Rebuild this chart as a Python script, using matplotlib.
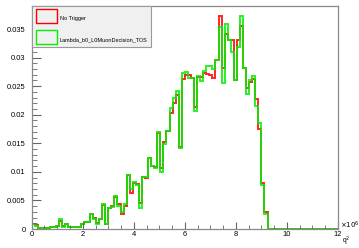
import numpy as np
import matplotlib
matplotlib.use("Agg")
import matplotlib.pyplot as plt
from matplotlib.patches import Rectangle
from matplotlib.ticker import MultipleLocator

# histogram: 100 bins from 0 to 12 (x 1e6)
edges = np.linspace(0, 12, 101)

no_trigger = [
    0.0008, 0.0007, 0.0001, 0.0002, 0.0001, 0.0002, 0.0004, 0.0004, 0.0006, 0.0014,
    0.0005, 0.0008, 0.0004, 0.0004, 0.0004, 0.0004, 0.0008, 0.0013, 0.0013, 0.0027,
    0.0019, 0.0010, 0.0017, 0.0042, 0.0009, 0.0036, 0.0041, 0.0056, 0.0043, 0.0027,
    0.0040, 0.0094, 0.0063, 0.0081, 0.0079, 0.0046, 0.0091, 0.0090, 0.0125, 0.0110,
    0.0108, 0.0168, 0.0106, 0.0153, 0.0171, 0.0203, 0.0221, 0.0235, 0.0144, 0.0263,
    0.0270, 0.0270, 0.0264, 0.0214, 0.0266, 0.0266, 0.0273, 0.0272, 0.0270, 0.0265,
    0.0296, 0.0373, 0.0282, 0.0341, 0.0330, 0.0330, 0.0260, 0.0331, 0.0356, 0.0281,
    0.0246, 0.0257, 0.0262, 0.0227, 0.0175, 0.0080, 0.0029, 0.0, 0.0, 0.0,
    0.0, 0.0, 0.0, 0.0, 0.0, 0.0, 0.0, 0.0, 0.0, 0.0,
    0.0, 0.0, 0.0, 0.0, 0.0, 0.0, 0.0, 0.0, 0.0, 0.0,
]

l0muon_tos = [
    0.0009, 0.0005, 0.0001, 0.0001, 0.0001, 0.0002, 0.0004, 0.0004, 0.0005, 0.0017,
    0.0004, 0.0009, 0.0004, 0.0004, 0.0004, 0.0004, 0.0009, 0.0012, 0.0012, 0.0027,
    0.0017, 0.0009, 0.0017, 0.0044, 0.0008, 0.0036, 0.0039, 0.0058, 0.0040, 0.0029,
    0.0044, 0.0094, 0.0070, 0.0083, 0.0077, 0.0037, 0.0091, 0.0091, 0.0125, 0.0111,
    0.0107, 0.0169, 0.0099, 0.0149, 0.0172, 0.0211, 0.0229, 0.0242, 0.0141, 0.0273,
    0.0274, 0.0264, 0.0264, 0.0207, 0.0268, 0.0259, 0.0277, 0.0286, 0.0286, 0.0280,
    0.0295, 0.0353, 0.0256, 0.0358, 0.0331, 0.0309, 0.0260, 0.0319, 0.0372, 0.0281,
    0.0237, 0.0261, 0.0268, 0.0215, 0.0185, 0.0077, 0.0027, 0.0, 0.0, 0.0,
    0.0, 0.0, 0.0, 0.0, 0.0, 0.0, 0.0, 0.0, 0.0, 0.0,
    0.0, 0.0, 0.0, 0.0, 0.0, 0.0, 0.0, 0.0, 0.0, 0.0,
]

labels = ["No Trigger", "Lambda_b0_L0MuonDecision_TOS"]
colors = ["#ff0000", "#00f000"]

plt.rcParams["font.family"] = ["Liberation Sans", "DejaVu Sans"]

fig = plt.figure(figsize=(3.59, 2.48), dpi=100)
ax = fig.add_axes([31.7 / 359, 1 - 229 / 248, (338 - 31.7) / 359, (229 - 5.7) / 248])

ax.stairs(no_trigger, edges, color=colors[0], lw=1.4, alpha=0.85)
ax.stairs(l0muon_tos, edges, color=colors[1], lw=1.4, alpha=0.85)

ax.set_xlim(0, 12)
ax.set_ylim(0, 0.03908)

ax.xaxis.set_major_locator(MultipleLocator(2))
ax.xaxis.set_minor_locator(MultipleLocator(0.5))
ax.yaxis.set_major_locator(MultipleLocator(0.005))
ax.yaxis.set_minor_locator(MultipleLocator(0.001))
ax.yaxis.set_major_formatter(plt.FuncFormatter(lambda v, p: "0" if v == 0 else f"{v:g}"))

ax.tick_params(axis="both", which="both", direction="in", color="#666666", labelsize=5.4)
ax.tick_params(axis="x", which="major", length=4.8, pad=1.5)
ax.tick_params(axis="x", which="minor", length=2.6)
ax.tick_params(axis="y", which="major", length=6.5, pad=4.5)
ax.tick_params(axis="y", which="minor", length=3.3)
for s in ax.spines.values():
    s.set_color("#888888")
    s.set_linewidth(0.9)

fig.text(340 / 359, 1 - 225.5 / 248, r"$\times10^{6}$", fontsize=5.0, ha="left", va="center")
fig.text(346 / 359, 1 - 241.5 / 248, r"q$^{2}$", fontsize=4.8, ha="center", va="center")

# legend box, ROOT style
fig.patches.append(Rectangle((31.7 / 359, 1 - 46.5 / 248), (151 - 31.7) / 359, (46.5 - 5.7) / 248,
                             transform=fig.transFigure, facecolor="#f0f0f0", edgecolor="#999999",
                             lw=0.8, zorder=5))
for i, (lab, c) in enumerate(zip(labels, colors)):
    yc = 15.7 + i * 21.5
    fig.patches.append(Rectangle((35.5 / 359, 1 - (yc + 7) / 248), 21 / 359, 14 / 248,
                                 transform=fig.transFigure, facecolor="#f0f0f0", edgecolor=c,
                                 lw=1.0, zorder=6))
    fig.text(60 / 359, 1 - (yc + 2.5) / 248, lab, fontsize=4.0, ha="left", va="center", zorder=7)

fig.savefig("out.png", dpi=100)
